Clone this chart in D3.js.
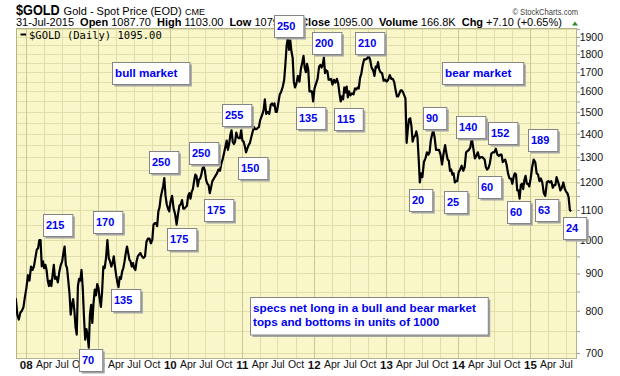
<!DOCTYPE html>
<html>
<head>
<meta charset="utf-8">
<script src="https://cdn.jsdelivr.net/npm/d3@7"></script>
<style>
body { margin: 0; background: #fff; }
svg text { font-family: Arial, "Liberation Sans", sans-serif; }
</style>
</head>
<body>
<div id="chart"></div>
<script>
var margin = { top: 28, right: 43, bottom: 18, left: 16 },
    width = 620 - margin.left - margin.right,
    height = 376 - margin.top - margin.bottom;

// weekly-ish closes, one inner array per month
var closes2007 = [ // Nov, Dec
    [835, 830, 790, 778], [795, 800, 808, 835]
];
var closes2008 = [
    [860, 895, 880, 920], [910, 920, 945, 970], [975, 1000, 1000, 920, 935],
    [915, 925, 910, 880, 865], [880, 865, 895, 925, 885], [890, 875, 905, 925],
    [935, 960, 980, 925, 915], [880, 845, 790, 815, 830], [800, 760, 742, 865, 885],
    [880, 910, 860, 785, 730], [755, 740, 712, 790, 815], [770, 820, 855, 840, 870]
];
var closes2009 = [
    [860, 830, 810, 850, 920], [915, 945, 1000, 945], [935, 920, 930, 950, 920],
    [895, 875, 862, 890, 885], [905, 915, 935, 960, 980], [960, 940, 935, 920, 930],
    [915, 910, 935, 950, 955], [960, 950, 945, 950], [995, 1005, 1005, 990],
    [1000, 1050, 1055, 1055, 1045], [1095, 1110, 1145, 1165, 1185], [1217, 1150, 1120, 1105, 1095]
];
var closes2010 = [
    [1130, 1150, 1105, 1085], [1050, 1085, 1115, 1120], [1135, 1105, 1105, 1110, 1115],
    [1150, 1160, 1140, 1165, 1175], [1205, 1230, 1225, 1185, 1210], [1215, 1230, 1255, 1260, 1245],
    [1210, 1195, 1190, 1160, 1180], [1205, 1215, 1225, 1235], [1250, 1245, 1275, 1295],
    [1320, 1345, 1370, 1330, 1355], [1395, 1415, 1365, 1355, 1365], [1405, 1385, 1380, 1380, 1415]
];
var closes2011 = [
    [1370, 1365, 1345, 1320, 1335], [1350, 1360, 1385, 1410], [1430, 1420, 1420, 1425, 1430],
    [1460, 1475, 1490, 1510, 1560], [1490, 1500, 1490, 1535], [1540, 1530, 1540, 1500, 1500],
    [1540, 1585, 1600, 1625], [1660, 1745, 1850, 1895, 1825], [1880, 1815, 1780, 1650, 1620],
    [1640, 1680, 1650, 1720], [1755, 1790, 1725, 1700, 1745], [1715, 1600, 1600, 1600, 1550]
];
var closes2012 = [
    [1615, 1640, 1665, 1730], [1740, 1725, 1740, 1780, 1695], [1710, 1705, 1660, 1660, 1665],
    [1635, 1660, 1645, 1665], [1640, 1590, 1550, 1575, 1560], [1620, 1595, 1625, 1570, 1600],
    [1580, 1590, 1585, 1615], [1610, 1620, 1615, 1670, 1690], [1735, 1770, 1770, 1775],
    [1790, 1770, 1725, 1710], [1680, 1730, 1725, 1755, 1715], [1700, 1695, 1655, 1660]
];
var closes2013 = [
    [1650, 1660, 1685, 1665], [1665, 1650, 1610, 1575], [1575, 1590, 1605, 1605, 1595],
    [1580, 1565, 1360, 1420, 1465], [1470, 1435, 1365, 1385, 1390], [1410, 1385, 1295, 1200, 1235],
    [1220, 1280, 1295, 1320], [1310, 1320, 1370, 1395, 1415], [1385, 1330, 1330, 1330],
    [1310, 1270, 1315, 1350], [1315, 1290, 1285, 1245, 1250], [1230, 1235, 1200, 1205, 1205]
];
var closes2014 = [
    [1240, 1250, 1265, 1245], [1260, 1320, 1325, 1330], [1340, 1380, 1335, 1295],
    [1305, 1320, 1295, 1300], [1300, 1295, 1290, 1260, 1250], [1255, 1275, 1315, 1320],
    [1320, 1335, 1310, 1305], [1310, 1310, 1280, 1285, 1290], [1270, 1235, 1215, 1215],
    [1195, 1220, 1235, 1230, 1170], [1170, 1140, 1190, 1195, 1175], [1210, 1225, 1195, 1195, 1185]
];
var closes2015 = [ // Jan - Jul
    [1215, 1260, 1290, 1280], [1235, 1230, 1205, 1215], [1200, 1160, 1150, 1200],
    [1205, 1200, 1205, 1180], [1190, 1190, 1220, 1205, 1190], [1170, 1180, 1200, 1175],
    [1165, 1160, 1145, 1100, 1095]
];

var priceLabels = [700, 800, 900, 1000, 1100, 1200, 1300, 1400, 1500, 1600, 1700, 1800, 1900];

// annotation boxes: text, date and price of the box's top left corner
var noteText = ["215", "170", "70", "135", "250", "175", "250", "175", "255", "150",
    "250", "135", "200", "115", "210", "20", "90", "25", "140", "60", "152", "60",
    "189", "63", "24", "bull market", "bear market",
    "specs net long in a bull and bear market|tops and bottoms in units of 1000"];
var noteDate = ["2008-03-27", "2008-12-09", "2008-09-25", "2009-03-09", "2009-09-19",
    "2009-12-17", "2010-04-06", "2010-06-21", "2010-09-25", "2010-12-11", "2011-06-11",
    "2011-10-02", "2011-12-22", "2012-04-15", "2012-07-26", "2013-04-30", "2013-07-06",
    "2013-10-21", "2013-12-22", "2014-04-13", "2014-06-03", "2014-09-07", "2014-12-23",
    "2015-01-25", "2015-06-19", "2009-03-13", "2013-10-13", "2011-02-12"];
var notePrice = [1086, 1097, 708, 856, 1327, 1038, 1365, 1138, 1538, 1302, 2036, 1525,
    1929, 1517, 1929, 1174, 1525, 1169, 1482, 1225, 1454, 1133, 1420, 1138, 1076,
    1758, 1758, 835];

var goldYears = [
    {year: 2007, firstMonth: 10, closes: closes2007},
    {year: 2008, firstMonth: 0, closes: closes2008},
    {year: 2009, firstMonth: 0, closes: closes2009},
    {year: 2010, firstMonth: 0, closes: closes2010},
    {year: 2011, firstMonth: 0, closes: closes2011},
    {year: 2012, firstMonth: 0, closes: closes2012},
    {year: 2013, firstMonth: 0, closes: closes2013},
    {year: 2014, firstMonth: 0, closes: closes2014},
    {year: 2015, firstMonth: 0, closes: closes2015}
];

var points = [];
goldYears.forEach(function(g){
    g.closes.forEach(function(vals, i){
        var m0 = new Date(g.year, g.firstMonth + i, 1),
            m1 = new Date(g.year, g.firstMonth + i + 1, 1);
        vals.forEach(function(v, j){
            points.push({date: new Date(+m0 + (m1 - m0) * (j + 0.5) / vals.length), close: v});
        });
    });
});

var parseDay = d3.timeParse("%Y-%m-%d");

var x = d3.scaleTime()
    .domain([new Date(2007, 10, 13), new Date(2015, 7, 28)])
    .range([0, width]);

var y = d3.scaleLog()
    .domain([689, 1955])
    .range([height, 0]);

var svg = d3.select("#chart")
    .append("svg")
    .attr("width", 620)
    .attr("height", 376);

//header (drawn first so the annotation boxes sit on top of it)
svg.append("text")
    .attr("x", 16).attr("y", 15)
    .attr("textLength", 43.7).attr("lengthAdjust", "spacingAndGlyphs")
    .style("font-size", "15px").style("font-weight", "bold")
    .text("$GOLD");
svg.append("text")
    .attr("x", 63.6).attr("y", 15)
    .style("font-size", "11px")
    .text("Gold - Spot Price (EOD)");
svg.append("text")
    .attr("x", 185).attr("y", 15)
    .style("font-size", "9px")
    .text("CME");
svg.append("text")
    .attr("x", 578).attr("y", 14.5)
    .attr("text-anchor", "end")
    .attr("textLength", 65.6).attr("lengthAdjust", "spacingAndGlyphs")
    .style("font-size", "9.5px").attr("fill", "#444")
    .text("\u00a9 StockCharts.com");

var quote = [["", "31-Jul-2015"], ["Open", "1087.70"], ["High", "1103.00"], ["Low", "1079.30"],
    ["Close", "1095.00"], ["Volume", "166.8K"], ["Chg", "+7.10 (+0.65%)"]];
var q = svg.append("text")
    .attr("x", 16).attr("y", 25.5)
    .style("font-size", "11px");
quote.forEach(function(p, i){
    if (p[0]) q.append("tspan").attr("dx", 6).style("font-weight", "bold").text(p[0]);
    q.append("tspan").attr("dx", i ? 3 : 0).text(p[1]);
});
svg.append("path")
    .attr("d", "M572,25.5L578,25.5L575,21.5Z")
    .attr("fill", "#2e8b2e");

var g = svg.append("g")
    .attr("transform", "translate(" + margin.left + "," + margin.top + ")");

g.append("rect")
    .attr("width", width)
    .attr("height", height)
    .attr("fill", "#f9f7c9");

g.append("clipPath").attr("id", "clip")
    .append("rect").attr("width", width).attr("height", height);

//grid
var quarters = x.ticks(d3.timeMonth.every(3));
g.append("g")
    .selectAll("line")
    .data(d3.range(700, 1951, 50))
    .join("line")
    .attr("x1", 0).attr("x2", width)
    .attr("y1", (d) => Math.round(y(d)) + 0.5)
    .attr("y2", (d) => Math.round(y(d)) + 0.5)
    .attr("stroke", "#e0deaa");

g.append("g")
    .selectAll("line")
    .data(quarters)
    .join("line")
    .attr("x1", (d) => Math.round(x(d)) + 0.5)
    .attr("x2", (d) => Math.round(x(d)) + 0.5)
    .attr("y1", 0).attr("y2", height)
    .attr("stroke", (d) => d.getMonth() === 0 ? "#c9c893" : "#e0deaa");

g.append("rect")
    .attr("x", 0.5).attr("y", 0.5)
    .attr("width", width - 1)
    .attr("height", height)
    .attr("fill", "none")
    .attr("stroke", "#b4b488");

//price line
var line = d3.line()
    .x((d) => x(d.date))
    .y((d) => y(d.close));

g.append("path")
    .datum(points)
    .attr("clip-path", "url(#clip)")
    .attr("fill", "none")
    .attr("stroke", "#000")
    .attr("stroke-width", 2.2)
    .attr("stroke-linejoin", "round")
    .attr("d", line);

//legend
g.append("line")
    .attr("x1", 4.5).attr("x2", 10)
    .attr("y1", 6.5).attr("y2", 6.5)
    .attr("stroke", "#000").attr("stroke-width", 2);
g.append("text")
    .attr("x", 13).attr("y", 10.5)
    .style("font-family", "'DejaVu Sans Mono', monospace")
    .style("font-size", "10.5px")
    .text("$GOLD (Daily) 1095.00");

//y axis
var yAxis = g.append("g")
    .attr("transform", "translate(" + width + ",0)")
    .call(d3.axisRight(y).tickValues(d3.range(700, 1951, 50)).tickSize(3)
        .tickFormat((d) => priceLabels.indexOf(d) >= 0 ? d : ""));
yAxis.select(".domain").remove();
yAxis.selectAll("line").attr("stroke", "#999");
yAxis.selectAll("text")
    .attr("text-anchor", "end")
    .attr("x", 26)
    .style("font-size", "10.5px")
    .attr("fill", "#111");

//x axis
var xAxis = g.append("g")
    .attr("transform", "translate(0," + height + ")")
    .call(d3.axisBottom(x).tickValues(quarters).tickSize(0).tickPadding(3)
        .tickFormat((d) => d.getMonth() === 0 ? d3.timeFormat("%y")(d) : d3.timeFormat("%b")(d)));
xAxis.select(".domain").remove();
xAxis.selectAll("text")
    .attr("fill", "#111")
    .style("font-size", (d) => d.getMonth() === 0 ? "11.5px" : "10.5px")
    .style("font-weight", (d) => d.getMonth() === 0 ? "bold" : "normal");

//annotation boxes
var notes = g.append("g")
    .selectAll("g")
    .data(noteText.map((t, i) => ({lines: t.split("|"), date: parseDay(noteDate[i]), price: notePrice[i]})))
    .join("g")
    .attr("transform", (d) => "translate(" + Math.round(x(d.date)) + "," + Math.round(y(d.price)) + ")");

notes.each(function(d){
    var box = d3.select(this),
        isWord = d.lines[0].length > 3,
        shadow = box.append("rect"),
        face = box.append("rect");
    var txt = box.selectAll("text")
        .data(d.lines)
        .join("text")
        .attr("x", 3)
        .attr("y", (l, i) => 15 + i * 14)
        .attr("fill", "#0000f0")
        .style("font-weight", "bold")
        .style("font-size", isWord ? "11.7px" : "11px")
        .text((l) => l);
    var w = d3.max(txt.nodes(), (n) => n.getComputedTextLength()) + (isWord ? 15 : 11),
        h = 22 + (d.lines.length - 1) * 15.5;
    shadow.attr("x", 2.5).attr("y", 2.5).attr("width", w).attr("height", h).attr("fill", "#a4a4a4");
    face.attr("x", 0.5).attr("y", 0.5).attr("width", w).attr("height", h)
        .attr("fill", "#fff").attr("stroke", "#858585");
});
</script>
</body>
</html>
